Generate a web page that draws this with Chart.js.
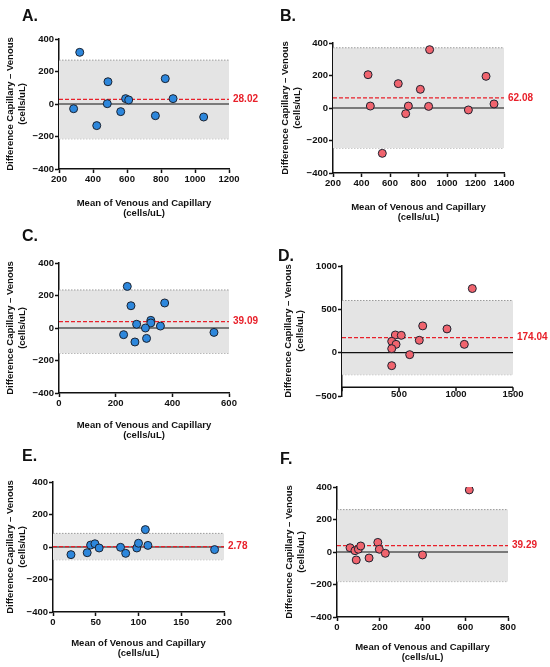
<!DOCTYPE html>
<html>
<head>
<meta charset="utf-8">
<script src="https://cdn.jsdelivr.net/npm/chart.js@4/dist/chart.umd.min.js"></script>
<style>
  html, body { margin: 0; padding: 0; background: #fff; }
  body { width: 550px; height: 667px; position: relative; overflow: hidden; }
  .cell { position: absolute; width: 275px; height: 227px; }
  .letter { position: absolute; font: bold 16px "Liberation Sans", Arial, sans-serif; color: #111; line-height: 17px; }
</style>
</head>
<body>
<div class="cell" style="left:0;top:0"><canvas id="plot0"></canvas></div>
<div class="cell" style="left:275px;top:0"><canvas id="plot1"></canvas></div>
<div class="cell" style="left:0;top:220px"><canvas id="plot2"></canvas></div>
<div class="cell" style="left:275px;top:220px"><canvas id="plot3"></canvas></div>
<div class="cell" style="left:0;top:440px"><canvas id="plot4"></canvas></div>
<div class="cell" style="left:275px;top:440px"><canvas id="plot5"></canvas></div>
<div class="letter" style="left:22px;top:7px">A.</div>
<div class="letter" style="left:280px;top:7px">B.</div>
<div class="letter" style="left:22px;top:227px">C.</div>
<div class="letter" style="left:278px;top:247px">D.</div>
<div class="letter" style="left:22px;top:447px">E.</div>
<div class="letter" style="left:280px;top:450px">F.</div>
<script>
// --------- data -------------------------------
var aMean = [286, 322, 488, 484, 422, 563, 592, 610, 767, 825, 871, 1051];
var aDiff = [-29, 318, 137, 2, -133, -47, 33, 25, -72, 156, 33, -80];
var bMean = [446, 462, 546, 658, 710, 729, 813, 871, 878, 1150, 1274, 1330];
var bDiff = [205, 12, -279, 150, -35, 12, 115, 10, 359, -12, 195, 25];
var cMean = [241, 254, 373, 274, 324, 324, 305, 358, 228, 268, 309, 547];
var cDiff = [256, 137, 154, 23, 47, 31, 0, 12, -41, -86, -64, -27];
var dMean = [1143, 708, 921, 468, 520, 436, 474, 678, 1073, 436, 594, 436];
var dDiff = [740, 309, 274, 204, 200, 131, 96, 143, 96, 46, -23, -150];
var eMean = [21, 40, 44, 49, 54, 79, 85, 98, 100, 108, 111, 189];
var eDiff = [-47, -35, 12, 20, -6, -2, -39, -6, 23, 107, 10, -16];
var fMean = [619, 61, 84, 100, 111, 90, 150, 191, 198, 226, 400];
var fDiff = [382, 26, 8, 17, 37, -49, -37, 59, 17, -8, -18];

var biasValues = [28.02, 62.08, 39.09, 174.04, 2.78, 39.29];
var upperLimits = [270, 370.6, 234.1, 602, 83.8, 260.8];
var lowerLimits = [-214, -246.4, -155.9, -254, -78.2, -182.2];

var xMins = [200, 200, 0, 0, 0, 0];
var xMaxs = [1200, 1400, 600, 1500, 200, 800];
var xSteps = [200, 200, 200, 500, 50, 200];
var yMins = [-400, -400, -400, -500, -400, -400];
var yMaxs = [400, 400, 400, 1000, 400, 400];
var ySteps = [200, 200, 200, 500, 200, 200];
var xAxisAt = [null, null, null, -400, null, null];

var allMeans = [aMean, bMean, cMean, dMean, eMean, fMean];
var allDiffs = [aDiff, bDiff, cDiff, dDiff, eDiff, fDiff];

// --------- layout (cell pixel coords) -----------
var plotAreas = [[59, 39, 229, 169], [58, 43, 229, 173], [59, 43, 229, 173],
                 [67, 46, 238, 176], [53, 42, 224, 172], [62, 47, 233, 177]];
var yTitleX = [10, 10, 10, 13, 10, 14];
var xTitleY = [203, 207, 205, 208, 203, 207];
var dotColors = ['#2d87dc', '#f0646e', '#2d87dc', '#f0646e', '#2d87dc', '#f0646e'];
var CELL_H = 227;

Chart.defaults.font.family = '"Liberation Sans", Arial, sans-serif';
Chart.defaults.color = '#111';

var biasLabel = {
  id: 'biasLabel',
  afterDatasetsDraw: function(chart, args, opts) {
    var ctx = chart.ctx;
    var y = chart.scales.y.getPixelForValue(opts.value);
    ctx.save();
    ctx.font = 'bold 10px "Liberation Sans", Arial, sans-serif';
    ctx.fillStyle = '#e8202a';
    ctx.textBaseline = 'middle';
    ctx.fillText(opts.value.toFixed(2), chart.chartArea.right + 4, y);
    ctx.restore();
  }
};

// x axis drawn across the plot at a y value (panel D)
var offsetAxis = {
  id: 'offsetAxis',
  afterDraw: function(chart, args, opts) {
    if (opts.at === null || opts.at === undefined) return;
    var ctx = chart.ctx, xs = chart.scales.x;
    var y = chart.scales.y.getPixelForValue(opts.at);
    ctx.save();
    ctx.strokeStyle = '#111';
    ctx.lineWidth = 1.5;
    ctx.beginPath();
    ctx.moveTo(xs.left, y);
    ctx.lineTo(xs.right, y);
    xs.ticks.forEach(function(t) {
      var px = xs.getPixelForValue(t.value);
      ctx.moveTo(px, y);
      ctx.lineTo(px, y + 4);
    });
    ctx.stroke();
    ctx.restore();
  }
};

function tickText(v) {
  return String(v).replace('-', '\u2212');
}

for (var i = 0; i < 6; i++) {
  var area = plotAreas[i];
  var xLh = 9.5 * 1.1, yLh = 9.5 * 1.35;
  var pts = allMeans[i].map(function(m, k) { return {x: m, y: allDiffs[i][k]}; });
  var ends = function(v) { return [{x: xMins[i], y: v}, {x: xMaxs[i], y: v}]; };

  var xPos = 'bottom';
  var xTitlePad;
  var padBottom = 0;
  var offset = xAxisAt[i] !== null;
  if (offset) {
    xPos = {y: xAxisAt[i]};
    var pix = area[1] + (yMaxs[i] - xAxisAt[i]) / (yMaxs[i] - yMins[i]) * (area[3] - area[1]);
    xTitlePad = pix + (area[3] - area[1]) - xTitleY[i] - xLh / 2 - xLh;
    padBottom = CELL_H - area[3];
  } else {
    xTitlePad = CELL_H - (xTitleY[i] + xLh) - xLh / 2;
  }

  (function(idx, xh, yw, isOffset) {
    new Chart(document.getElementById('plot' + idx), {
      type: 'line',
      data: {
        datasets: [
          {
            data: pts, showLine: false, pointRadius: 4, pointHoverRadius: 4,
            pointBackgroundColor: dotColors[idx], pointBorderColor: '#1c2330', pointBorderWidth: 1
          },
          { data: ends(biasValues[idx]), borderColor: '#e8202a', borderWidth: 1.2, borderDash: [4, 2], pointRadius: 0 },
          { data: ends(0), borderColor: '#111', borderWidth: 1.2, pointRadius: 0 },
          {
            data: ends(upperLimits[idx]), borderColor: '#9a9a9a', borderWidth: 1, borderDash: [1.5, 1.5],
            pointRadius: 0, fill: '+1', backgroundColor: '#e4e4e4'
          },
          { data: ends(lowerLimits[idx]), borderColor: '#9a9a9a', borderWidth: 1, borderDash: [1.5, 1.5], pointRadius: 0 }
        ]
      },
      options: {
        responsive: true,
        maintainAspectRatio: false,
        animation: false,
        layout: { padding: { left: 0, top: area[1], right: 275 - area[2], bottom: padBottom } },
        plugins: {
          legend: { display: false },
          tooltip: { enabled: false },
          biasLabel: { value: biasValues[idx] },
          offsetAxis: { at: xAxisAt[idx] }
        },
        scales: {
          x: {
            type: 'linear', position: xPos,
            min: xMins[idx], max: xMaxs[idx],
            ticks: {
              stepSize: xSteps[idx], padding: 1, color: '#111',
              font: { size: 9.5, weight: 'bold' },
              callback: function(v) { return (isOffset && v === 0) ? '' : tickText(v); }
            },
            grid: { drawOnChartArea: false, drawTicks: !isOffset, tickLength: 4, color: '#111', tickWidth: 1.5 },
            border: { display: !isOffset, color: '#111', width: 1.5 },
            title: {
              display: true, text: ['Mean of Venous and Capillary', '(cells/uL)'],
              font: { size: 9.5, weight: 'bold', lineHeight: 1.1 }, color: '#111',
              padding: { top: 0, bottom: xTitlePad }
            },
            afterFit: function(s) { s.height = xh; }
          },
          y: {
            min: yMins[idx], max: yMaxs[idx],
            ticks: {
              stepSize: ySteps[idx], padding: 1, color: '#111',
              font: { size: 9.5, weight: 'bold' },
              callback: function(v) { return tickText(v); }
            },
            grid: { drawOnChartArea: false, tickLength: 4, color: '#111', tickWidth: 1.5 },
            border: { color: '#111', width: 1.5 },
            title: {
              display: true, text: ['Difference Capillary \u2013 Venous', '(cells/uL)'],
              font: { size: 9.5, weight: 'bold', lineHeight: 1.35 }, color: '#111',
              padding: { top: yTitleX[idx] - yLh / 2, bottom: 0 }
            },
            afterFit: function(s) { s.width = yw; }
          }
        }
      },
      plugins: [biasLabel, offsetAxis]
    });
  })(i, CELL_H - area[3], area[0], offset);
}
</script>
</body>
</html>
